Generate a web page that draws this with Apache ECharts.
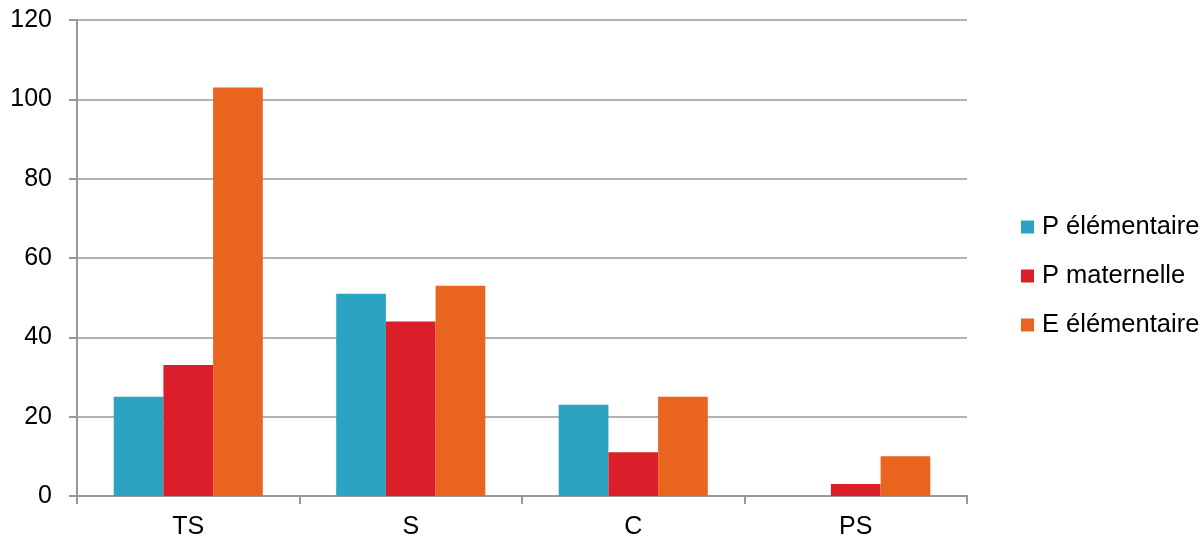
<!DOCTYPE html>
<html><head><meta charset="utf-8">
<script src="https://cdn.jsdelivr.net/npm/echarts@6/dist/echarts.min.js"></script>
<style>html,body{margin:0;padding:0;background:#fff}#c{width:1202px;height:539px}</style>
</head><body><div id="c"></div>
<script>
const categories = ['TS', 'S', 'C', 'PS'];
const pElementaire = [25, 51, 23, 0];
const pMaternelle = [33, 44, 11, 3];
const eElementaire = [103, 53, 25, 10];
const yTicks = [0, 20, 40, 60, 80, 100, 120];

const chart = echarts.init(document.getElementById('c'));
const font = 'Liberation Sans, Arial, sans-serif';
chart.setOption({
  animation: false,
  textStyle: { fontFamily: font },
  grid: { left: 77, right: 235, top: 20, bottom: 43, containLabel: false, outerBoundsMode: 'none' },
  legend: {
    orient: 'vertical', left: 1016, top: 209, itemWidth: 13, itemHeight: 13, itemGap: 23,
    icon: 'rect',
    textStyle: { fontSize: 25.5, lineHeight: 26, color: '#000', fontFamily: font, padding: [0, 0, 0, 3] },
    data: ['P élémentaire', 'P maternelle', 'E élémentaire']
  },
  xAxis: {
    type: 'category', data: categories,
    axisLine: { lineStyle: { color: '#999', width: 2 } },
    axisTick: { show: true, length: 8, lineStyle: { color: '#999', width: 2 } },
    axisLabel: { fontSize: 25, color: '#000', margin: 19, fontFamily: font }
  },
  yAxis: {
    type: 'value', min: yTicks[0], max: yTicks[yTicks.length-1], interval: 20,
    axisLine: { show: true, lineStyle: { color: '#999', width: 2 } },
    axisTick: { show: true, length: 8, lineStyle: { color: '#999', width: 2 } },
    axisLabel: { fontSize: 25, color: '#000', margin: 25, fontFamily: font },
    splitLine: { lineStyle: { color: '#999', width: 1.5 } }
  },
  series: [
    { name: 'P élémentaire', type: 'bar', data: pElementaire, itemStyle: { color: '#2CA3C1' }, barGap: '0%', barCategoryGap: '33%' },
    { name: 'P maternelle', type: 'bar', data: pMaternelle, itemStyle: { color: '#DA1F2B' }, barGap: '0%', barCategoryGap: '33%' },
    { name: 'E élémentaire', type: 'bar', data: eElementaire, itemStyle: { color: '#E9641E' }, barGap: '0%', barCategoryGap: '33%' }
  ]
});
</script></body></html>
